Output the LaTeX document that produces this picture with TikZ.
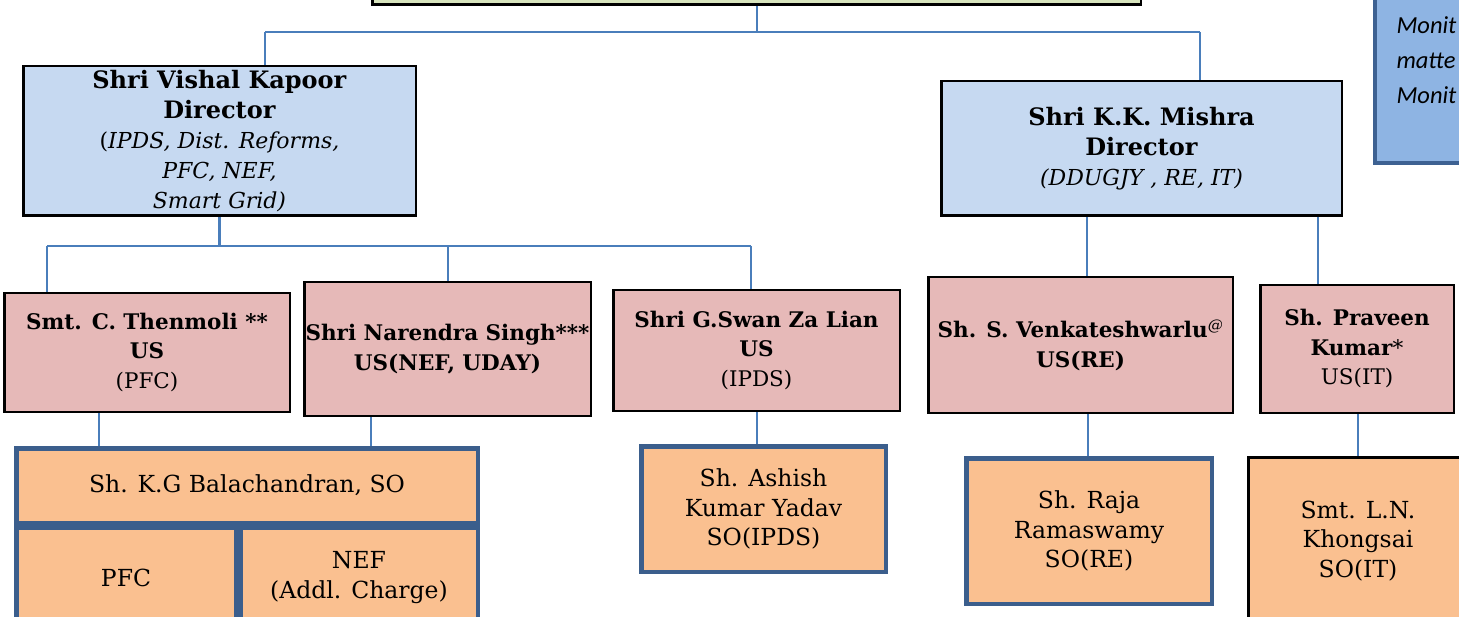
\documentclass[tikz,border=0pt]{standalone}
\usepackage{fontspec}
\setmainfont{DejaVu Serif}
\newfontfamily\calib{Carlito}
\definecolor{topgreen}{HTML}{D7E4BD}
\definecolor{dirblue}{HTML}{C6D9F1}
\definecolor{uspink}{HTML}{E6B9B8}
\definecolor{soorange}{HTML}{FAC090}
\definecolor{sobord}{HTML}{3B5E8C}
\definecolor{connblue}{HTML}{4A7EBB}
\definecolor{notefill}{HTML}{8EB4E3}
\definecolor{noteborder}{HTML}{3D6192}
\tikzset{
  base/.style={draw, rectangle, align=center, inner sep=0pt},
  topbox/.style={base, fill=topgreen, line width=2.5pt},
  dirbox/.style={base, fill=dirblue, line width=2.5pt, font=\fontsize{24}{30}\selectfont},
  usbox/.style={base, fill=uspink, line width=2.5pt, font=\fontsize{21.5}{29.5}\selectfont},
  sobox/.style={base, fill=soorange, draw=sobord, line width=4.5pt, font=\fontsize{23.5}{29.5}\selectfont},
  notebox/.style={base, fill=notefill, draw=noteborder, line width=3.5pt, align=left, font=\calib\itshape\fontsize{24.5}{35}\selectfont},
  conn/.style={draw=connblue, line width=2.2pt}
}
\begin{document}
\begin{tikzpicture}[x=1pt,y=-1pt]
\useasboundingbox (0,0) rectangle (1459,617);
\clip (0,0) rectangle (1459,617);
\fill[white] (0,0) rectangle (1459,617);

% top level
\node[topbox, minimum width=768.5pt, minimum height=43.5pt] (top) at (756.5,-17) {};
\node[notebox, minimum width=123.5pt, minimum height=206.5pt, text width=80pt, inner xsep=20pt] (note) at (1436.5,60)
  {Monit\\matte\\Monit};

% directors
\node[dirbox, minimum width=392.5pt, minimum height=149.5pt] (kapoor) at (219.5,141)
  {\textbf{Shri Vishal Kapoor}\\\textbf{Director}\\
   {\fontsize{22}{29}\selectfont(\textit{IPDS, Dist. Reforms,}}\\
   {\fontsize{22}{29}\selectfont\textit{PFC, NEF,}}\\
   {\fontsize{22}{29}\selectfont\textit{Smart Grid)}}};
\node[dirbox, minimum width=400.5pt, minimum height=134.5pt] (mishra) at (1141.5,148.5)
  {\textbf{Shri K.K. Mishra}\\\textbf{Director}\\
   {\fontsize{22}{30}\selectfont\textit{(DDUGJY , RE, IT)}}};

% under secretaries
\node[usbox, minimum width=285.5pt, minimum height=118.5pt] (thenmoli) at (147,352.5)
  {\textbf{Smt. C. Thenmoli **}\\\textbf{US}\\(PFC)};
\node[usbox, minimum width=286.5pt, minimum height=133.5pt] (narendra) at (447.5,349)
  {\textbf{Shri Narendra Singh***}\\\textbf{US(NEF, UDAY)}};
\node[usbox, minimum width=286.5pt, minimum height=120.5pt] (gswan) at (756.5,350.5)
  {\textbf{Shri G.Swan Za Lian}\\\textbf{US}\\(IPDS)};
\node[usbox, minimum width=304.5pt, minimum height=135.5pt] (venk) at (1080.5,345)
  {\textbf{Sh. S. Venkateshwarlu}\textsuperscript{\textit{@}}\\\textbf{US(RE)}};
\node[usbox, minimum width=193.5pt, minimum height=127.5pt] (praveen) at (1357,349)
  {\textbf{Sh. Praveen}\\\textbf{Kumar}*\\US(IT)};

% section officers
\node[sobox, minimum width=461.5pt, minimum height=74.5pt] (bala) at (247,485.5)
  {Sh. K.G Balachandran, SO};
\node[sobox, minimum width=219.5pt, minimum height=100.5pt] (pfc) at (126,577.5)
  {PFC};
\node[sobox, minimum width=237.5pt, minimum height=100.5pt] (nef) at (359,577.5)
  {NEF\\(Addl. Charge)};
\node[sobox, minimum width=244.5pt, minimum height=125.5pt] (ashish) at (763.5,509)
  {Sh. Ashish\\Kumar Yadav\\SO(IPDS)};
\node[sobox, minimum width=245.5pt, minimum height=145.5pt] (raja) at (1089,531)
  {Sh. Raja\\Ramaswamy\\SO(RE)};
\node[sobox, draw=black, line width=2.5pt, minimum width=219.5pt, minimum height=167.5pt] (khongsai) at (1358,541)
  {Smt. L.N.\\Khongsai\\SO(IT)};

% connectors, top level
\coordinate (j0) at (757,32);
\coordinate (jl) at (265,32);
\coordinate (jr) at (1200,32);
\draw[conn] (top.south -| j0) -- (j0);
\draw[conn] (jl) -- (jr);
\draw[conn] (jl) -- (jl |- kapoor.north);
\draw[conn] (jr) -- (jr |- mishra.north);

% connectors under Kapoor
\coordinate (kl) at (47,246);
\coordinate (km) at (448,246);
\coordinate (kr) at (751,246);
\draw[conn] (kapoor.south) -- (kapoor.south |- kl);
\draw[conn] (kl) -- (kr);
\draw[conn] (kl) -- (kl |- thenmoli.north);
\draw[conn] (km) -- (km |- narendra.north);
\draw[conn] (kr) -- (kr |- gswan.north);

% connectors under Mishra
\draw[conn] ([xshift=-54.5pt]mishra.south) -- ([xshift=-54.5pt]mishra.south |- venk.north);
\draw[conn] ([xshift=176.5pt]mishra.south) -- ([xshift=176.5pt]mishra.south |- praveen.north);

% connectors to section officers
\draw[conn] ([xshift=-48pt]thenmoli.south) -- ([xshift=-48pt]thenmoli.south |- bala.north);
\draw[conn] ([xshift=-76.5pt]narendra.south) -- ([xshift=-76.5pt]narendra.south |- bala.north);
\draw[conn] ([xshift=0.5pt]gswan.south) -- ([xshift=0.5pt]gswan.south |- ashish.north);
\draw[conn] ([xshift=7.5pt]venk.south) -- ([xshift=7.5pt]venk.south |- raja.north);
\draw[conn] ([xshift=1pt]praveen.south) -- ([xshift=1pt]praveen.south |- khongsai.north);
\end{tikzpicture}
\end{document}
